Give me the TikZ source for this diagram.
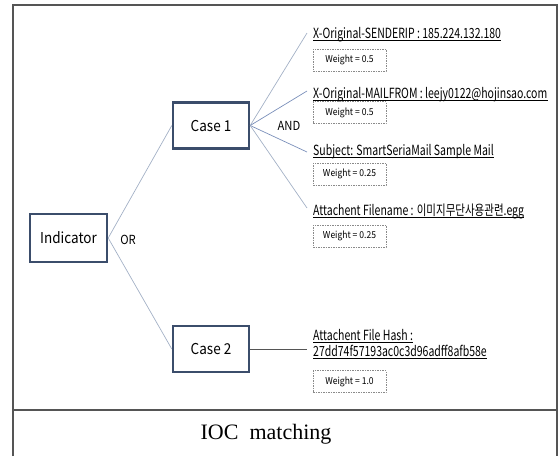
\documentclass[tikz,border=0pt]{standalone}
\usepackage{fontspec}
\setmainfont{Liberation Serif}
\newfontfamily\boxfont[FakeStretch=0.9]{Noto Sans CJK KR}
\newfontfamily\itemfont[FakeStretch=0.75]{Noto Sans CJK KR}
\definecolor{boxcol}{HTML}{3B4D6B}
\definecolor{linkcol}{HTML}{A3B1C6}
\definecolor{linkblue}{HTML}{7A8FBA}
\definecolor{framecol}{HTML}{555555}
\definecolor{dashcol}{HTML}{8A8A8A}
\tikzset{
  mainbox/.style={draw=boxcol, line width=2.4pt, fill=white, minimum width=76pt, minimum height=46pt, inner sep=0pt, font=\boxfont\fontsize{15}{18}\selectfont},
  itemtext/.style={anchor=base west, inner sep=0pt, font=\itemfont\fontsize{14}{16}\selectfont},
  weightbox/.style={draw=dashcol, dashed, dash pattern=on 1.5pt off 1pt, line width=0.6pt, minimum width=73pt, minimum height=22pt, inner sep=0pt, font=\boxfont\fontsize{9.5}{11}\selectfont},
  oplabel/.style={inner sep=0pt, font=\boxfont\fontsize{12.5}{14}\selectfont},
  link/.style={draw=linkcol, line width=0.7pt},
  ulink/.style={draw=linkblue, line width=0.7pt},
  uline/.style={draw=black, line width=0.8pt}
}
\begin{document}
\begin{tikzpicture}[x=1pt,y=-1pt]
\useasboundingbox (0,0) rectangle (559,456);
% frame
\draw[framecol, line width=1.8pt] (13,456) -- (13,5) -- (557,5) -- (557,456);
\draw[framecol, line width=1.8pt] (13,410) -- (557,410);
\node[font=\fontsize{22}{26}\selectfont, inner sep=0pt] (title) at (266,434) {IOC\ \ matching};

% main boxes
\node[mainbox, minimum width=77pt, minimum height=48pt] (ind) at (68.5,238) {Indicator};
\node[mainbox] (c1) at (211,125.5) {Case 1};
\node[mainbox] (c2) at (211,349) {Case 2};
\node[oplabel] (or) at (128,240) {OR};
\node[oplabel] (and) at (289,126) {AND};

% endpoints
\coordinate (e1) at (307,33);
\coordinate (e2) at (307,91);
\coordinate (e3) at (307,152);
\coordinate (e4) at (307,208);
\coordinate (e5) at (307,349);

% connectors
\draw[link] (ind.east) -- (c1.west);
\draw[link] (ind.east) -- (c2.west);
\draw[link] (c1.east) -- (e1);
\draw[ulink] (c1.east) -- (e2);
\draw[ulink] (c1.east) -- (e3);
\draw[link] (c1.east) -- (e4);
\draw[draw=framecol, line width=0.7pt] (c2.east) -- (e5);

% item texts
\node[itemtext] (t1) at (313,38) {X-Original-SENDERIP : 185.224.132.180};
\node[itemtext] (t2) at (313,98) {X-Original-MAILFROM : leejy0122@hojinsao.com};
\node[itemtext] (t3) at (313,155) {Subject: SmartSeriaMail Sample Mail};
\node[itemtext] (t4) at (313,215) {Attachent Filename : 이미지무단사용관련.egg};
\node[itemtext] (t5a) at (313,340) {Attachent File Hash :};
\node[itemtext] (t5b) at (313,356) {27dd74f57193ac0c3d96adff8afb58e};
\foreach \t in {t1,t2,t3,t4,t5a,t5b}{
  \draw[uline] ([yshift=-2.5pt]\t.base west) -- ([yshift=-2.5pt]\t.base east);
}

% weight boxes
\node[weightbox] (w1) at (349.5,60) {Weight = 0.5};
\node[weightbox] (w2) at (349.5,112.5) {Weight = 0.5};
\node[weightbox] (w3) at (349.5,174) {Weight = 0.25};
\node[weightbox] (w4) at (349.5,236) {Weight = 0.25};
\node[weightbox] (w5) at (349.5,381.5) {Weight = 1.0};
\end{tikzpicture}
\end{document}
